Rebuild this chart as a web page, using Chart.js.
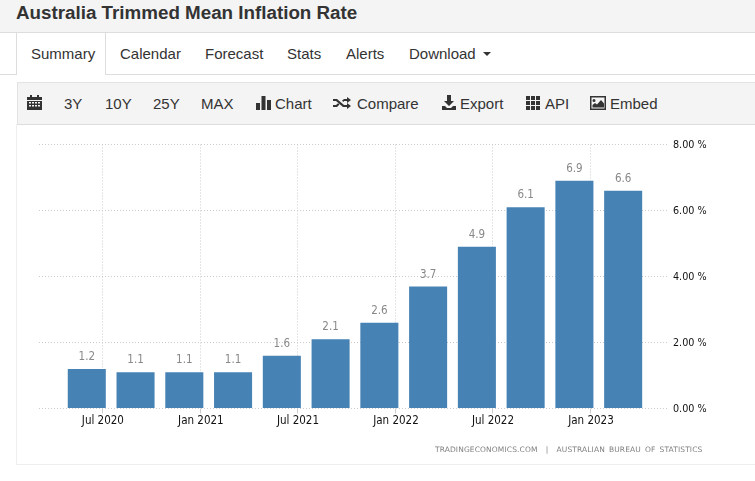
<!DOCTYPE html>
<html>
<head>
<meta charset="utf-8">
<title>Australia Trimmed Mean Inflation Rate</title>
<script src="https://cdn.jsdelivr.net/npm/chart.js@4"></script>
<style>
  html, body { margin: 0; padding: 0; background: #fff; overflow: hidden; }
  body { width: 755px; height: 481px; position: relative; font-family: "Liberation Sans", Arial, sans-serif; color: #333; }
  .head { position: absolute; left: 0; top: 0; width: 755px; height: 32px; background: #f4f4f4; border-bottom: 1px solid #ddd; }
  .head h1 { position: absolute; left: 16px; top: 1px; margin: 0; font-size: 18.8px; line-height: 24px; font-weight: bold; color: #333; }
  .tabline { position: absolute; left: 0; top: 74px; width: 755px; height: 1px; background: #ddd; }
  .active { position: absolute; left: 16px; top: 33px; width: 88px; height: 42px; background: #fff; border: 1px solid #ddd; border-top: 0; border-bottom: 0; }
  .tab { position: absolute; top: 44px; font-size: 15px; line-height: 20px; color: #333; white-space: nowrap; }
  .caret { position: absolute; left: 483px; top: 52px; width: 0; height: 0; border: 4px solid transparent; border-top-color: #333; border-bottom: 0; }
  .bar { position: absolute; left: 17px; top: 82px; width: 738px; height: 41px; background: #f4f4f4; border-top: 1px solid #e3e3e3; border-bottom: 1px solid #ddd; border-left: 1px solid #e3e3e3; }
  .btn { position: absolute; top: 94px; font-size: 15px; line-height: 20px; color: #333; white-space: nowrap; }
  svg.ic { position: absolute; fill: #333; }
  .panel { position: absolute; left: 16px; top: 124px; width: 739px; height: 341px; border-left: 1px solid #eee; border-bottom: 1px solid #eee; box-sizing: border-box; }
  #wrap { position: absolute; left: 17px; top: 125px; width: 738px; height: 340px; }
  .source { position: absolute; left: 435px; top: 445px; font-family: "DejaVu Sans", sans-serif; font-size: 7.5px; line-height: 10px; letter-spacing: 0.12px; word-spacing: 1.6px; color: #808080; white-space: nowrap; }
</style>
</head>
<body>
<div class="head"><h1>Australia Trimmed Mean Inflation Rate</h1></div>
<div class="tabline"></div>
<div class="active"></div>
<div class="tab" style="left:31px">Summary</div>
<div class="tab" style="left:120px">Calendar</div>
<div class="tab" style="left:205px">Forecast</div>
<div class="tab" style="left:287px">Stats</div>
<div class="tab" style="left:346px">Alerts</div>
<div class="tab" style="left:409px">Download</div>
<div class="caret"></div>

<div class="bar"></div>
<svg class="ic" style="left:27px;top:95px" width="15" height="15" viewBox="0 0 15 15"><path d="M3 0h2v2h5V0h2v2h3v3H0V2h3zM0 6h15v9H0zm2 1v1.500h2V7zm3 0v1.500h2V7zm3 0v1.500h2V7zm3 0v1.500h2V7zM2 10v1.500h2V10zm3 0v1.500h2V10zm3 0v1.500h2V10zm3 0v1.500h2V10z" fill-rule="evenodd"/></svg>
<div class="btn" style="left:64px">3Y</div>
<div class="btn" style="left:105px">10Y</div>
<div class="btn" style="left:153px">25Y</div>
<div class="btn" style="left:201px">MAX</div>
<svg class="ic" style="left:256px;top:96px" width="15" height="14" viewBox="0 0 15 14"><path d="M0 7h4v7H0zM5.500 0h4v14h-4zM11 4h4v10h-4z"/></svg>
<div class="btn" style="left:275px">Chart</div>
<svg class="ic" style="left:333px;top:97px" width="18" height="12" viewBox="0 0 18 12"><path d="M0 2h4l7 6h3V6l4 3-4 3v-2h-4L3 4H0zM0 8h3l2-1.700 1.500 1.300L4 10H0zM9 3.700L11 2h3V0l4 3-4 3V4h-3L10.500 5z"/></svg>
<div class="btn" style="left:357px">Compare</div>
<svg class="ic" style="left:442px;top:95px" width="14" height="15" viewBox="0 0 14 15"><path d="M5 0h4v6h3l-5 5-5-5h3zM0 11h3l2 2h4l2-2h3v4H0z"/></svg>
<div class="btn" style="left:460px">Export</div>
<svg class="ic" style="left:526px;top:96px" width="14" height="14" viewBox="0 0 14 14"><path d="M0 0h4v4H0zM5 0h4v4H5zM10 0h4v4h-4zM0 5h4v4H0zM5 5h4v4H5zM10 5h4v4h-4zM0 10h4v4H0zM5 10h4v4H5zM10 10h4v4h-4z"/></svg>
<div class="btn" style="left:545px">API</div>
<svg class="ic" style="left:590px;top:96px" width="16" height="14" viewBox="0 0 16 14"><path d="M0 0h16v14H0zm1.500 1.500v11h13v-11zM4 3a1.500 1.500 0 1 1 0 3 1.500 1.500 0 0 1 0-3zM2.500 11.500V9L5 7l2 1.500L11 4l3 3.500v4z" fill-rule="evenodd"/></svg>
<div class="btn" style="left:610px">Embed</div>

<div class="panel"></div>
<div id="wrap"><canvas id="c"></canvas></div>
<div class="source">TRADINGECONOMICS.COM &nbsp;|&nbsp; AUSTRALIAN BUREAU OF STATISTICS</div>

<script>
// quarterly readings
const quarters = ["Jun 2020","Sep 2020","Dec 2020","Mar 2021","Jun 2021","Sep 2021","Dec 2021","Mar 2022","Jun 2022","Sep 2022","Dec 2022","Mar 2023"];
const values = [1.2, 1.1, 1.1, 1.1, 1.6, 2.1, 2.6, 3.7, 4.9, 6.1, 6.9, 6.6];

// x axis ticks, in quarters counted from the first bar
const tickSpots = [0.33, 2.34, 4.33, 6.34, 8.33, 10.34];
const tickNames = ["Jul 2020","Jan 2021","Jul 2021","Jan 2022","Jul 2022","Jan 2023"];
const yTicks = [0, 2, 4, 6, 8];

const barLabels = {
  id: "barLabels",
  afterDatasetsDraw(chart) {
    const ctx = chart.ctx;
    const bars = chart.getDatasetMeta(0).data;
    ctx.save();
    ctx.font = '11.5px "DejaVu Sans Condensed", "DejaVu Sans", sans-serif';
    ctx.fillStyle = "#888";
    ctx.textAlign = "center";
    ctx.textBaseline = "bottom";
    bars.forEach((b, i) => ctx.fillText(values[i].toFixed(1), b.x, b.y - 6));
    ctx.restore();
  }
};

new Chart(document.getElementById("c"), {
  type: "bar",
  plugins: [barLabels],
  data: {
    datasets: [{
      label: "Australia Trimmed Mean Inflation Rate",
      data: values.map((v, i) => ({ x: i, y: v, q: quarters[i] })),
      backgroundColor: "#4682b4",
      categoryPercentage: 1,
      barPercentage: 0.78
    }]
  },
  options: {
    responsive: true,
    maintainAspectRatio: false,
    animation: false,
    layout: { padding: { left: 22, top: 19.5, right: 0, bottom: 0 } },
    plugins: { legend: { display: false }, tooltip: { enabled: false } },
    scales: {
      x: {
        type: "linear",
        offset: false,
        min: -0.98,
        max: 11.94,
        afterBuildTicks(axis) { axis.ticks = tickSpots.map(v => ({ value: v })); },
        afterFit(axis) { axis.height = 56.5; },
        grid: { offset: false, color: "#ccc", lineWidth: 1, tickLength: 5, tickColor: "#ccc" },
        border: { display: false, dash: [1, 2] },
        ticks: {
          autoSkip: false,
          maxRotation: 0,
          padding: 1,
          color: "#111",
          font: { family: '"DejaVu Sans Condensed", "DejaVu Sans", sans-serif', size: 11.5 },
          callback(v) { return tickNames[tickSpots.indexOf(v)]; }
        }
      },
      y: {
        position: "right",
        min: 0,
        max: 8,
        afterBuildTicks(axis) { axis.ticks = yTicks.map(v => ({ value: v })); },
        afterFit(axis) { axis.width = 86; },
        grid: { color: "#ccc", lineWidth: 1, drawTicks: false },
        border: { display: false, dash: [1, 2] },
        ticks: {
          padding: 4,
          labelOffset: 1,
          color: "#111",
          font: { family: '"DejaVu Sans Condensed", "DejaVu Sans", sans-serif', size: 10.7 },
          callback(v) { return v.toFixed(2) + " %"; }
        }
      }
    }
  }
});
</script>
</body>
</html>
